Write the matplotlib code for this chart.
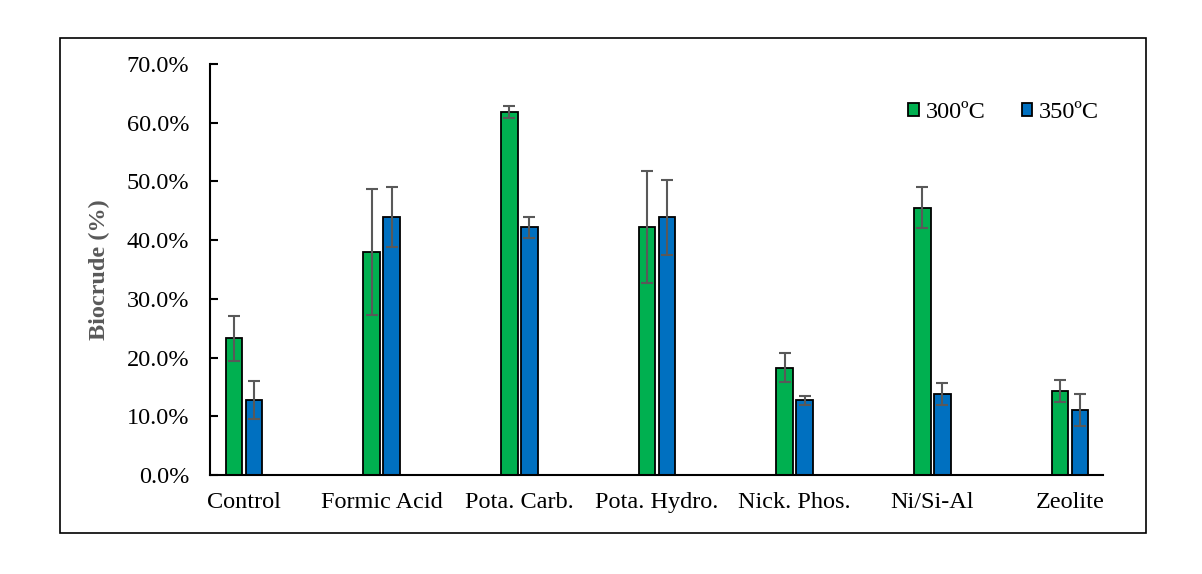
import matplotlib.pyplot as plt
import numpy as np
from matplotlib.patches import Rectangle
from matplotlib.ticker import PercentFormatter

categories = ["Control", "Formic Acid", "Pota. Carb.", "Pota. Hydro.",
              "Nick. Phos.", "Ni/Si-Al", "Zeolite"]
yield_300 = [23.3, 38.0, 61.8, 42.2, 18.3, 45.5, 14.3]
err_300 = [3.8, 10.7, 1.0, 9.5, 2.5, 3.5, 1.8]
yield_350 = [12.8, 43.9, 42.2, 43.9, 12.7, 13.8, 11.1]
err_350 = [3.2, 5.1, 1.8, 6.4, 0.8, 1.8, 2.7]

plt.rcParams['font.family'] = ['Liberation Serif', 'DejaVu Serif']

fig = plt.figure(figsize=(12.02, 5.74), dpi=100)
ax = fig.add_axes([210 / 1202, 1 - 475 / 574, 893 / 1202, 411 / 574])

# outer frame like the Excel chart area
fig.patches.append(Rectangle((60 / 1202, 1 - 533 / 574), 1086 / 1202, 495 / 574,
                             transform=fig.transFigure, fill=False,
                             edgecolor="black", linewidth=1.2))

x = np.arange(len(categories))
w = 0.12
off = 0.073
err_kw = dict(ecolor="#595959", elinewidth=1.5, capsize=4, capthick=1.5)

ax.bar(x - off, yield_300, w, yerr=err_300, color="#00B050", edgecolor="black",
       linewidth=1.3, label="300ºC", error_kw=err_kw)
ax.bar(x + off, yield_350, w, yerr=err_350, color="#0070C0", edgecolor="black",
       linewidth=1.3, label="350ºC", error_kw=err_kw)

ax.set_xlim(-0.247, 6.24)
ax.set_ylim(0, 70)
ax.set_yticks(np.arange(0, 71, 10))
ax.yaxis.set_major_formatter(PercentFormatter(decimals=1))
ax.set_xticks(x)
ax.set_xticklabels(categories)

ax.spines["top"].set_visible(False)
ax.spines["right"].set_visible(False)
ax.spines["left"].set_linewidth(1.5)
ax.spines["bottom"].set_linewidth(1.5)
ax.tick_params(axis="y", direction="in", length=6, width=1.5, labelsize=17.5, pad=15)
ax.tick_params(axis="x", length=0, labelsize=17.5, pad=12)

ax.set_ylabel("Biocrude (%)", fontsize=17.5, fontweight="bold", color="#595959", labelpad=12)

ax.legend(loc="center right", bbox_to_anchor=(0.995, 0.881), ncol=2, frameon=False,
          fontsize=17.5, handlelength=0.45, handleheight=0.45, handletextpad=0.25,
          columnspacing=1.5, borderaxespad=0, borderpad=0)

fig.savefig("out.png", dpi=100)
